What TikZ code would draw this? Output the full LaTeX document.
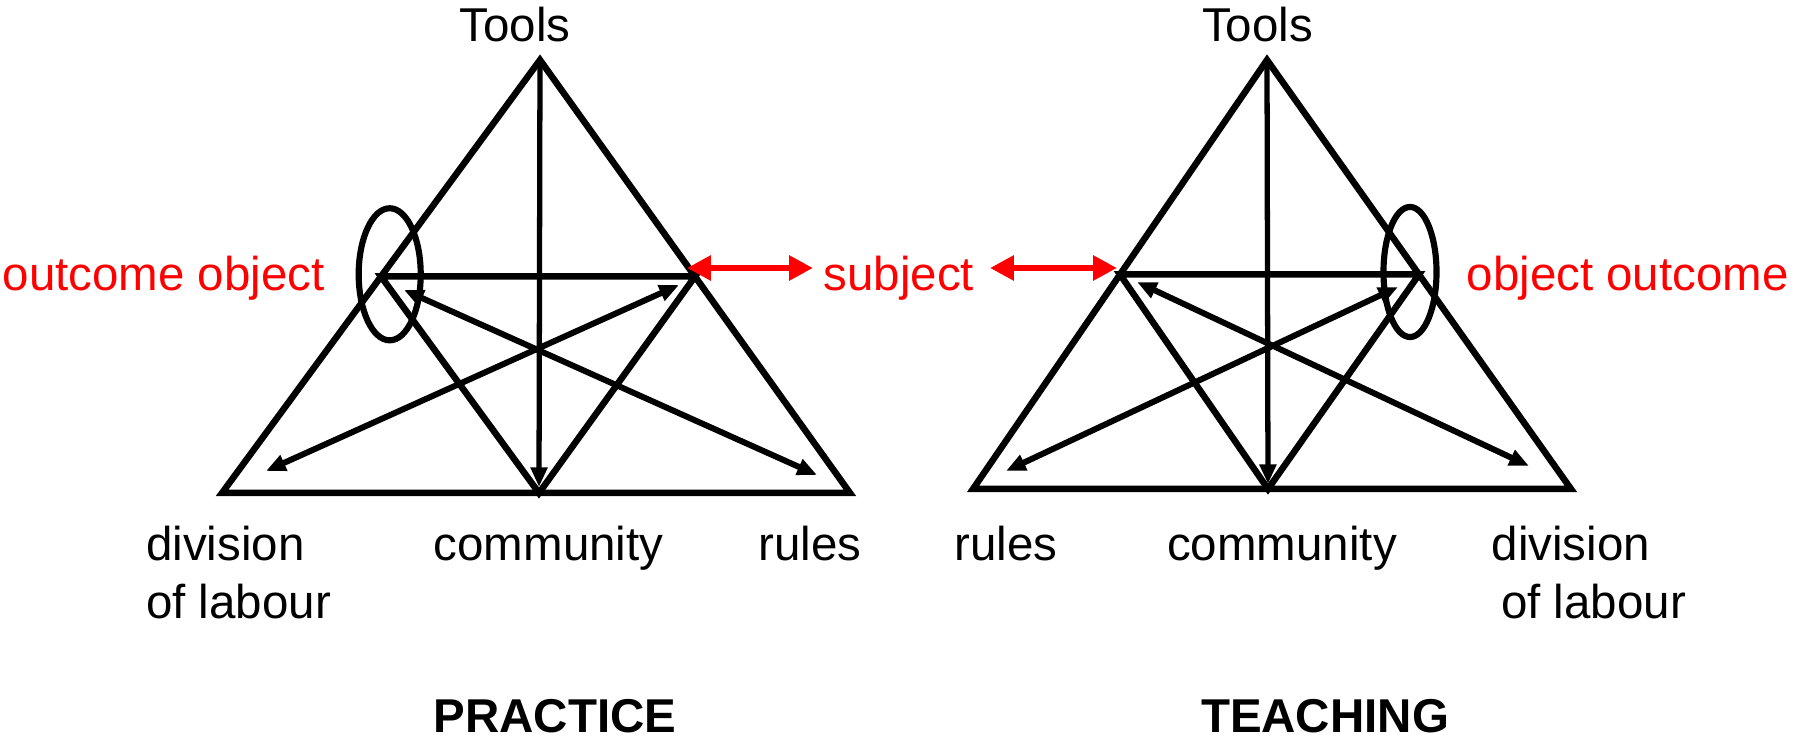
\documentclass[tikz,border=0pt]{standalone}
\usepackage{fontspec}
\setmainfont{Liberation Sans}
\usetikzlibrary{arrows.meta,calc}
\begin{document}
\begin{tikzpicture}[x=0.01cm,y=-0.01cm,
 tri/.style={line width=1.85pt, line join=miter},
 dbl/.style={line width=1.7pt, {Triangle[length=5.6pt,width=4.6pt]}-{Triangle[length=5.6pt,width=4.6pt]}},
 downarr/.style={line width=1.5pt, -{Triangle[length=5.6pt,width=4.6pt]}},
 redarr/.style={draw=red, line width=1.9pt, {Triangle[length=6.8pt,width=6.8pt]}-{Triangle[length=6.8pt,width=6.8pt]}},
 lbl/.style={font=\fontsize{13.5}{16}\selectfont, inner sep=0pt},
 rlbl/.style={lbl, text=red},
 ttl/.style={lbl, font=\fontsize{13.5}{16}\selectfont\bfseries},
 ring/.style={line width=1.75pt}]
\useasboundingbox (0,0) rectangle (1796,743);

% ---------- left triangle (PRACTICE)
\coordinate (LA) at (540,60);
\coordinate (LBL) at (222,493);
\coordinate (LBR) at (850,493);
\coordinate (LBM) at (539,493);
\coordinate (LML) at ($(LA)!0.5!(LBL)$);
\coordinate (LMR) at ($(LA)!0.5!(LBR)$);
\coordinate (LV) at (539,487);
\coordinate (LA1) at (404,290);
\coordinate (LA2) at (817,475);
\coordinate (LB1) at (266,471);
\coordinate (LB2) at (679,285);

\draw[tri] (LA) -- (LBL) -- (LBR) -- cycle;
\draw[tri] (LML) -- (LMR) -- (LBM) -- cycle;
\draw[downarr] (LA) -- (LV);
\draw[dbl] (LA1) -- (LA2);
\draw[dbl] (LB1) -- (LB2);
\draw[ring] (389.7,274.3) ellipse [x radius=0.31cm, y radius=0.66cm];

% ---------- right triangle (TEACHING)
\coordinate (RA) at (1267,60);
\coordinate (RBL) at (973,489);
\coordinate (RBR) at (1571,489);
\coordinate (RBM) at (1268,489);
\coordinate (RML) at ($(RA)!0.5!(RBL)$);
\coordinate (RMR) at ($(RA)!0.5!(RBR)$);
\coordinate (RV) at (1268,484);
\coordinate (RA1) at (1137,282);
\coordinate (RA2) at (1529,466);
\coordinate (RB1) at (1006,471);
\coordinate (RB2) at (1398,287);

\draw[tri] (RA) -- (RBL) -- (RBR) -- cycle;
\draw[tri] (RML) -- (RMR) -- (RBM) -- cycle;
\draw[downarr] (RA) -- (RV);
\draw[dbl] (RA1) -- (RA2);
\draw[dbl] (RB1) -- (RB2);
\draw[ring] (1410,272) ellipse [x radius=0.265cm, y radius=0.65cm];

% ---------- red arrows
\coordinate (S1a) at (687,268);
\coordinate (S1b) at (813,268);
\coordinate (S2a) at (990,268);
\coordinate (S2b) at (1117,268);
\draw[redarr] (S1a) -- (S1b);
\draw[redarr] (S2a) -- (S2b);

% ---------- labels
\node[lbl, anchor=base] (tools1) at (515,42) {Tools};
\node[lbl, anchor=base] (tools2) at (1257.5,42) {Tools};
\node[rlbl, anchor=base west] (oo1) at (2,291) {outcome object};
\node[rlbl, anchor=base west] (subj) at (823,291) {subject};
\node[rlbl, anchor=base west] (oo2) at (1466,291) {object outcome};
\node[lbl, anchor=base west] (div1) at (145.5,561) {division};
\node[lbl, anchor=base west] (lab1) at (145.5,618.5) {of labour};
\node[lbl, anchor=base] (com1) at (548.6,561) {community};
\node[lbl, anchor=base] (rul1) at (810,561) {rules};
\node[lbl, anchor=base] (rul2) at (1006,561) {rules};
\node[lbl, anchor=base] (com2) at (1282,561) {community};
\node[lbl, anchor=base west] (div2) at (1491,561) {division};
\node[lbl, anchor=base west] (lab2) at (1500.5,618.5) {of labour};
\node[ttl, anchor=base] (prac) at (555,733) {PRACTICE};
\node[ttl, anchor=base] (teach) at (1325,733) {TEACHING};
\end{tikzpicture}
\end{document}
